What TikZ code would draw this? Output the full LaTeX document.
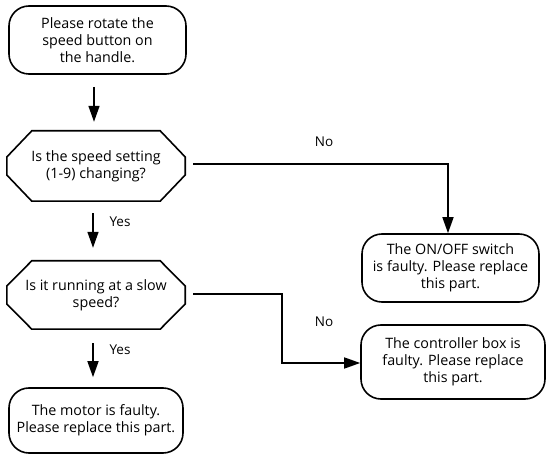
\documentclass[tikz,border=0pt]{standalone}
\usepackage{fontspec}
\setmainfont{Open Sans}
\usetikzlibrary{arrows.meta,calc}
\begin{document}
\begin{tikzpicture}[x=1pt,y=-1pt,
  txt/.style={font=\fontsize{14.3}{17}\selectfont, align=center, inner sep=0pt},
  rbox/.style={txt, draw, line width=1.6pt, rounded corners=20pt},
  decbox/.style={txt},
  conn/.style={line width=1.5pt, -{Triangle[width=11pt,length=16pt]}},
  lbl/.style={font=\fontsize{13.5}{15}\selectfont, inner sep=0pt}]
\useasboundingbox (0,0) rectangle (547,457);
% nodes
\node[rbox, minimum width=177pt, minimum height=68pt] (start) at (97.5,40) {Please rotate the\\speed button on\\the handle.};
\node[decbox, minimum width=178pt, minimum height=70pt] (q1) at (96,166) {Is the speed setting\\(1-9) changing?};
\node[decbox, minimum width=178pt, minimum height=68pt] (q2) at (96,295) {Is it running at a slow\\speed?};
\node[rbox, minimum width=174pt, minimum height=65pt] (motor) at (96,420.5) {The motor is faulty.\\Please replace this part.};
\node[rbox, minimum width=177pt, minimum height=68pt] (onoff) at (450.5,268) {The ON/OFF switch\\is faulty. Please replace\\this part.};
\node[rbox, minimum width=184pt, minimum height=74pt] (ctrl) at (453,362) {The controller box is\\faulty. Please replace\\this part.};
% octagons
\foreach \n in {q1,q2}{
  \draw[line width=1.6pt, line join=miter]
    ([yshift=9pt]\n.west) -- ([xshift=25pt]\n.north west) -- ([xshift=-25pt]\n.north east)
    -- ([yshift=9pt]\n.east) -- ([yshift=-9pt]\n.east) -- ([xshift=-25pt]\n.south east)
    -- ([xshift=25pt]\n.south west) -- ([yshift=-9pt]\n.west) -- cycle;
}
% connector endpoints
\coordinate (a1s) at ($(start.south)+(-3.5,12)$);
\coordinate (a1e) at ($(q1.north)+(-2,-9)$);
\coordinate (a2s) at ($(q1.south)+(-3,12)$);
\coordinate (a2e) at ($(q2.north)+(-3,-13)$);
\coordinate (a3s) at ($(q2.south)+(-3,14)$);
\coordinate (a3e) at ($(motor.north)+(-3,-10)$);
\coordinate (n1s) at ($(q1.east)+(8,-2)$);
\coordinate (n1c) at ($(onoff.north)+(-2.5,0)$);
\coordinate (n2s) at ($(q2.east)+(8,-1)$);
\coordinate (n2k) at (282,294);
\coordinate (n2e) at ($(ctrl.west)+(0,1)$);
% connectors
\draw[conn] (a1s) -- (a1e);
\draw[conn] (a2s) -- (a2e);
\draw[conn] (a3s) -- (a3e);
\draw[conn] (n1s) -| (n1c);
\draw[conn] (n2s) -- (n2k) |- (n2e);
% labels
\node[lbl] (yes1) at (120,222) {Yes};
\node[lbl] (yes2) at (120,350) {Yes};
\node[lbl] (no1) at (324,142) {No};
\node[lbl] (no2) at (324,322) {No};
\end{tikzpicture}
\end{document}
